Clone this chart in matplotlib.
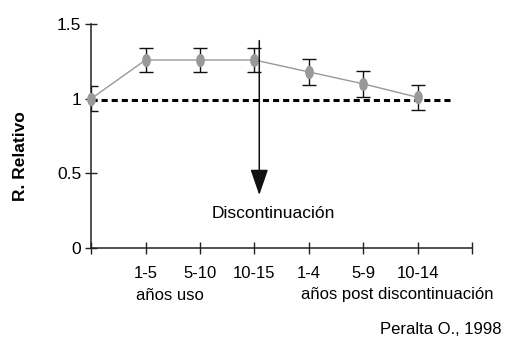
import numpy as np
import matplotlib
matplotlib.use('Agg')
import matplotlib.pyplot as plt
from matplotlib.path import Path

plt.rcParams['font.family'] = ['Liberation Sans', 'DejaVu Sans']

# datos
periodos = ['', '1-5', '5-10', '10-15', '1-4', '5-9', '10-14', '']
rr = [1.0, 1.26, 1.26, 1.26, 1.18, 1.10, 1.01]
err = [0.085, 0.08, 0.08, 0.08, 0.085, 0.085, 0.085]
ref_value = 0.99
ref_span = (0, 6.6)
yticks = [0, 0.5, 1, 1.5]
ytick_labels = ['0', '0.5', '1', '1.5']
arrow_x = 3.09
arrow_from = 1.39
arrow_to = 0.355

fig = plt.figure(figsize=(5.06, 3.45), dpi=100)
ax = fig.add_axes([0.18, 0.281, 0.753, 0.649])

x = np.arange(len(rr))

# marcador eliptico (vertical)
t = np.linspace(0, 2 * np.pi, 40)
ellipse = Path(np.column_stack([0.62 * np.cos(t), np.sin(t)]))

ax.plot(ref_span, [ref_value, ref_value], color='black', lw=2.2,
        linestyle=(0, (2.0, 1.3)), zorder=1)
ax.errorbar(x, rr, yerr=err, fmt='none', ecolor='#111111', elinewidth=1.0,
            capsize=5, capthick=1.0, zorder=2)
ax.plot(x, rr, color='#999999', lw=1.0, marker=ellipse, markersize=8.5,
        markerfacecolor='#999999', markeredgecolor='#999999', zorder=3,
        clip_on=False)

ax.annotate('', xy=(arrow_x, arrow_to), xytext=(arrow_x, arrow_from),
            arrowprops=dict(arrowstyle='-|>,head_length=1.6,head_width=0.55',
                            color='#111111', lw=1.1, mutation_scale=10,
                            shrinkA=0, shrinkB=0))
ax.text(3.34, 0.234, 'Discontinuación', ha='center', va='center', fontsize=12.5)

ax.set_xlim(0, 7)
ax.set_ylim(0, 1.5)
ax.set_xticks(range(len(periodos)))
ax.set_xticklabels(periodos, fontsize=12)
ax.set_yticks(yticks)
ax.set_yticklabels(ytick_labels, fontsize=12.5)
ax.tick_params(axis='both', direction='inout', length=8, width=1.0, color='#222222')
ax.tick_params(axis='x', pad=9)
ax.tick_params(axis='y', pad=3)

for s in ['top', 'right']:
    ax.spines[s].set_visible(False)
for s in ['left', 'bottom']:
    ax.spines[s].set_linewidth(1.1)
    ax.spines[s].set_color('#222222')

ax.set_ylabel('R. Relativo', fontsize=12.5, fontweight='bold', labelpad=0)
ax.yaxis.set_label_coords(-0.165, 0.41)

fig.text(170 / 506, 1 - 295 / 345, 'años uso', ha='center', va='center', fontsize=12)
fig.text(397 / 506, 1 - 295 / 345, 'años post discontinuación', ha='center',
         va='center', fontsize=12)
fig.text(502 / 506, 1 - 330 / 345, 'Peralta O., 1998', ha='right', va='center',
         fontsize=12)

fig.savefig('out.png', dpi=100)
